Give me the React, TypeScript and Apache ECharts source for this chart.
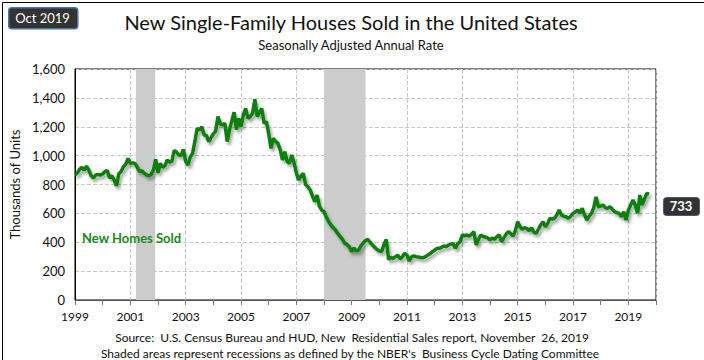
import React, { useEffect, useRef } from "react";
import * as echarts from "echarts";

// Monthly new single-family houses sold, SAAR (thousands), Jan 1999 - Oct 2019
const y1999 = [866, 880, 905, 919, 900, 928, 900, 860, 845, 866, 870, 865];
const y2000 = [873, 890, 896, 845, 860, 830, 790, 875, 890, 923, 940, 981];
const y2001 = [946, 950, 946, 920, 889, 895, 880, 866, 860, 870, 900, 975];
const y2002 = [880, 946, 920, 930, 970, 955, 960, 1035, 1025, 1005, 1000, 1043];
const y2003 = [960, 935, 990, 1016, 1100, 1189, 1177, 1200, 1143, 1140, 1097, 1125];
const y2004 = [1150, 1170, 1270, 1220, 1212, 1224, 1097, 1180, 1240, 1300, 1180, 1258];
const y2005 = [1200, 1280, 1327, 1258, 1270, 1293, 1390, 1270, 1300, 1327, 1224, 1235];
const y2006 = [1154, 1050, 1120, 1100, 1085, 1040, 970, 1027, 960, 947, 1004, 950];
const y2007 = [880, 831, 860, 877, 800, 785, 762, 720, 681, 727, 650, 623];
const y2008 = [612, 575, 542, 520, 500, 485, 460, 440, 420, 392, 385, 369];
const y2009 = [335, 360, 340, 345, 375, 395, 412, 420, 400, 381, 365, 350];
const y2010 = [340, 335, 385, 420, 282, 295, 288, 300, 311, 285, 300, 323];
const y2011 = [310, 270, 300, 305, 300, 298, 295, 293, 300, 311, 320, 335];
const y2012 = [345, 358, 358, 365, 374, 370, 381, 385, 392, 358, 390, 404];
const y2013 = [450, 445, 450, 443, 455, 473, 381, 420, 450, 440, 436, 430];
const y2014 = [415, 430, 420, 440, 450, 404, 430, 457, 473, 460, 443, 480];
const y2015 = [542, 510, 489, 500, 496, 480, 500, 470, 462, 490, 520, 542];
const y2016 = [508, 530, 566, 560, 566, 590, 623, 589, 580, 577, 566, 580];
const y2017 = [600, 610, 623, 600, 635, 590, 554, 580, 600, 640, 715, 646];
const y2018 = [650, 658, 640, 635, 646, 630, 612, 605, 600, 577, 612, 554];
const y2019 = [620, 658, 692, 660, 600, 727, 658, 700, 739, 733];

const sales = [
  ...y1999, ...y2000, ...y2001, ...y2002, ...y2003, ...y2004, ...y2005,
  ...y2006, ...y2007, ...y2008, ...y2009, ...y2010, ...y2011, ...y2012,
  ...y2013, ...y2014, ...y2015, ...y2016, ...y2017, ...y2018, ...y2019,
];
const startYear = 1999;

// NBER recessions (fractional years)
const recessions = [
  [2001.2, 2001.9],
  [2008.0, 2009.5],
];

const titleText = "New Single-Family Houses Sold in the United States";
const subtitleText = "Seasonally Adjusted Annual Rate";
const dateBadge = "Oct 2019";
const seriesName = "New Homes Sold";
const yAxisName = "Thousands of Units";
const sourceLines = [
  "Source:  U.S. Census Bureau and HUD, New  Residential Sales report, November  26, 2019",
  "Shaded areas represent recessions as defined by the NBER's  Business Cycle Dating Committee",
];

const FONT = "Lato, 'Open Sans', sans-serif";

export default function App() {
  const ref = useRef<HTMLDivElement>(null);
  useEffect(() => {
    if (!ref.current) return;
    const chart = echarts.init(ref.current, undefined, { renderer: "svg" });
    const lineData = sales.map((v, i) => [startYear + i / 12, v]);
    const last = sales[sales.length - 1];
    chart.setOption({
      animation: false,
      backgroundColor: "#ffffff",
      textStyle: { fontFamily: FONT },
      grid: {
        left: 70,
        right: 48,
        top: 69,
        bottom: 60,
        show: true,
        borderColor: "#000",
        borderWidth: 1,
        backgroundColor: "transparent",
      },
      xAxis: {
        type: "value",
        min: 1999,
        max: 2020,
        interval: 2,
        axisLine: { show: true, lineStyle: { color: "#555", width: 1 } },
        axisTick: { show: true, length: 5, lineStyle: { color: "#777" } },
        minorTick: { show: true, splitNumber: 2, length: 5, lineStyle: { color: "#777" } },
        axisLabel: {
          color: "#111",
          fontSize: 12,
          fontFamily: FONT,
          margin: 10,
          formatter: (v: number) => ((Math.round(v) - 1999) % 2 === 0 ? String(Math.round(v)) : ""),
        },
        splitLine: { show: true, lineStyle: { color: "#c8c8c8", type: "dashed", width: 1 } },
      },
      yAxis: {
        type: "value",
        min: 0,
        max: 1600,
        interval: 200,
        name: yAxisName,
        nameLocation: "middle",
        nameRotate: 90,
        nameGap: 48,
        nameTextStyle: { fontSize: 13, color: "#111", fontFamily: FONT },
        axisLine: { show: true, lineStyle: { color: "#000", width: 1 } },
        axisTick: { show: false },
        axisLabel: {
          color: "#111",
          fontSize: 13,
          fontFamily: FONT,
          margin: 10,
          formatter: (v: number) => v.toLocaleString("en-US"),
        },
        splitLine: { show: true, lineStyle: { color: "#c8c8c8", type: "dashed", width: 1 } },
      },
      series: [
        {
          type: "line",
          data: [],
          z: 1,
          silent: true,
          markArea: {
            silent: true,
            itemStyle: { color: "#cccccc", opacity: 1 },
            data: recessions.map((r) => [{ xAxis: r[0] }, { xAxis: r[1] }]),
          },
        },
        {
          type: "line",
          name: seriesName,
          data: lineData,
          z: 3,
          showSymbol: false,
          symbol: "none",
          lineStyle: {
            color: "#107f10",
            width: 3.5,
            shadowColor: "rgba(0,0,0,0.35)",
            shadowBlur: 3,
            shadowOffsetX: 2,
            shadowOffsetY: 3,
          },
        },
      ],
      graphic: [
        {
          type: "rect",
          left: 0,
          top: 0,
          shape: { width: 703, height: 359 },
          style: { fill: "none", stroke: "#000", lineWidth: 1 },
          silent: true,
          z: 100,
        },
        {
          type: "rect",
          left: 8,
          top: 7,
          shape: { width: 69, height: 21, r: 3 },
          style: { fill: "#333333", stroke: "#4a72a8", lineWidth: 1.5 },
          z: 50,
        },
        {
          type: "text",
          x: 42.5,
          y: 17.5,
          style: {
            text: dateBadge,
            fill: "#fff",
            fontSize: 13,
            fontFamily: FONT,
            align: "center",
            verticalAlign: "middle",
          },
          z: 51,
        },
        {
          type: "text",
          x: 351,
          y: 22,
          style: {
            text: titleText,
            fill: "#111",
            fontSize: 20,
            fontFamily: FONT,
            align: "center",
            verticalAlign: "middle",
          },
        },
        {
          type: "text",
          x: 351,
          y: 45,
          style: {
            text: subtitleText,
            fill: "#111",
            fontSize: 13,
            fontFamily: FONT,
            align: "center",
            verticalAlign: "middle",
          },
        },
        {
          type: "text",
          x: 82,
          y: 238,
          style: {
            text: seriesName,
            fill: "#1a8a1a",
            fontSize: 13,
            fontWeight: "bold",
            fontFamily: FONT,
            align: "left",
            verticalAlign: "middle",
          },
          z: 20,
        },
        {
          type: "rect",
          left: 663,
          top: 197,
          shape: { width: 36, height: 18, r: 3 },
          style: { fill: "#333333", stroke: "#4a5a70", lineWidth: 1 },
          z: 50,
        },
        {
          type: "text",
          x: 681,
          y: 206,
          style: {
            text: String(last),
            fill: "#fff",
            fontSize: 13,
            fontWeight: "bold",
            fontFamily: FONT,
            align: "center",
            verticalAlign: "middle",
          },
          z: 51,
        },
        {
          type: "text",
          x: 352,
          y: 337,
          style: {
            text: sourceLines[0],
            fill: "#111",
            fontSize: 12,
            fontFamily: FONT,
            align: "center",
            verticalAlign: "middle",
          },
        },
        {
          type: "text",
          x: 350,
          y: 353,
          style: {
            text: sourceLines[1],
            fill: "#111",
            fontSize: 12,
            fontFamily: FONT,
            align: "center",
            verticalAlign: "middle",
          },
        },
      ],
    });
    return () => chart.dispose();
  }, []);
  return (
    <div
      ref={ref}
      style={{ position: "fixed", left: 0, top: 0, width: 704, height: 360 }}
    />
  );
}
